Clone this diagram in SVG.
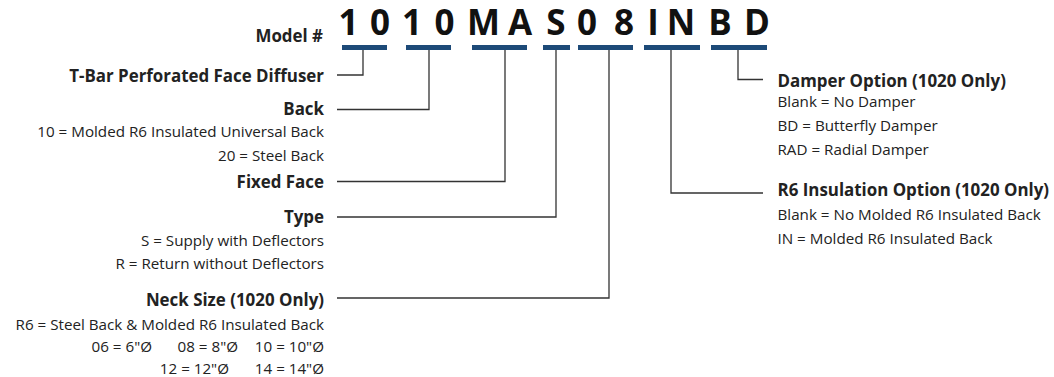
<svg xmlns="http://www.w3.org/2000/svg" width="1054" height="377" viewBox="0 0 1054 377">
<style>
.big{font-family:"Open Sans","Liberation Sans",sans-serif;font-weight:bold;font-size:35px;fill:#111;text-anchor:middle}
.t{font-family:"Open Sans","Liberation Sans",sans-serif;font-weight:bold;font-size:16.9px;fill:#222}
.r{font-family:"Open Sans","Liberation Sans",sans-serif;font-size:15.2px;fill:#222}
.e{text-anchor:end}
.bar{fill:#1d4a78}
.c{fill:none;stroke:#333;stroke-width:1.3}
</style>
<rect width="1054" height="377" fill="#fff"/>
<g id="model">
<text class="t e" x="323" y="41.5">Model #</text>
<text class="big" x="348.5" y="35">1</text>
<text class="big" x="380" y="35">0</text>
<text class="big" x="412" y="35">1</text>
<text class="big" x="444.5" y="35">0</text>
<text class="big" x="483.5" y="35">M</text>
<text class="big" x="520" y="35">A</text>
<text class="big" x="556" y="35">S</text>
<text class="big" x="587" y="35">0</text>
<text class="big" x="624" y="35">8</text>
<text class="big" x="653" y="35">I</text>
<text class="big" x="681" y="35">N</text>
<text class="big" x="720" y="35">B</text>
<text class="big" x="757" y="35">D</text>
<rect class="bar" x="342" y="45" width="45" height="5"/>
<rect class="bar" x="406" y="45" width="45" height="5"/>
<rect class="bar" x="472" y="45" width="55" height="5"/>
<rect class="bar" x="543" y="45" width="27" height="5"/>
<rect class="bar" x="578" y="45" width="55" height="5"/>
<rect class="bar" x="644" y="45" width="56" height="5"/>
<rect class="bar" x="711" y="45" width="56" height="5"/>
</g>
<g id="connectors">
<polyline class="c" points="337,75 363,75 363,50"/>
<polyline class="c" points="337,109.5 429,109.5 429,50"/>
<polyline class="c" points="337,181.5 505,181.5 505,50"/>
<polyline class="c" points="337,217 556,217 556,50"/>
<polyline class="c" points="337,298 609,298 609,50"/>
<polyline class="c" points="763,193 671,193 671,50"/>
<polyline class="c" points="763,79.5 738,79.5 738,50"/>
</g>
<g id="tbar">
<text class="t e" x="324" y="81.5">T-Bar Perforated Face Diffuser</text>
</g>
<g id="back">
<text class="t e" x="324" y="115">Back</text>
<text class="r e" x="324" y="136.5">10 = Molded R6 Insulated Universal Back</text>
<text class="r e" x="324" y="160.5">20 = Steel Back</text>
</g>
<g id="fixedface">
<text class="t e" x="324" y="188">Fixed Face</text>
</g>
<g id="type">
<text class="t e" x="324" y="223">Type</text>
<text class="r e" x="324" y="245.5">S = Supply with Deflectors</text>
<text class="r e" x="324" y="268.5">R = Return without Deflectors</text>
</g>
<g id="necksize">
<text class="t e" x="324" y="305.5">Neck Size (1020 Only)</text>
<text class="r e" x="324" y="329.5">R6 = Steel Back &amp; Molded R6 Insulated Back</text>
<text class="r e" x="152" y="352">06 = 6"Ø</text>
<text class="r e" x="238" y="352">08 = 8"Ø</text>
<text class="r e" x="324" y="352">10 = 10"Ø</text>
<text class="r e" x="229" y="373.5">12 = 12"Ø</text>
<text class="r e" x="324" y="373.5">14 = 14"Ø</text>
</g>
<g id="damper">
<text class="t" x="777.5" y="86.5">Damper Option (1020 Only)</text>
<text class="r" x="777.5" y="106.5">Blank = No Damper</text>
<text class="r" x="777.5" y="130.5">BD = Butterfly Damper</text>
<text class="r" x="777.5" y="154.5">RAD = Radial Damper</text>
</g>
<g id="insulation">
<text class="t" x="777.5" y="196">R6 Insulation Option (1020 Only)</text>
<text class="r" x="777.5" y="220">Blank = No Molded R6 Insulated Back</text>
<text class="r" x="777.5" y="243.5">IN = Molded R6 Insulated Back</text>
</g>
</svg>
